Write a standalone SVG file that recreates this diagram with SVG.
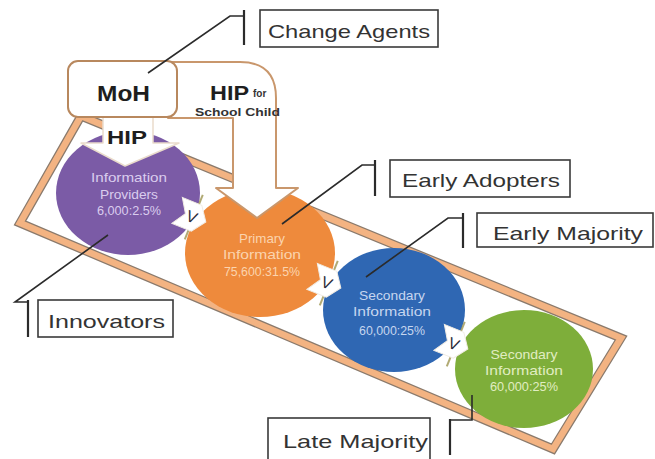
<svg xmlns="http://www.w3.org/2000/svg" width="655" height="459" viewBox="0 0 655 459">
  <style>
    .lbl { font-family: "Liberation Sans", Arial, sans-serif; font-size: 19px; fill: #333333; }
    .box { fill: #ffffff; stroke: #3a3a3a; stroke-width: 1.6; }
    .lead { fill: none; stroke: #2b2b2b; stroke-width: 1.6; }
    .br { fill: none; stroke: #2b2b2b; stroke-width: 2.2; }
    .ct { font-family: "Liberation Sans", Arial, sans-serif; font-size: 13px; text-anchor: middle; }
    .arw { fill: #ffffff; stroke: #c9976c; stroke-width: 2; stroke-linejoin: round; }
    .vm { fill: #ffffff; stroke: #f1ece4; stroke-width: 1; }
    .vt { font-family: "Liberation Sans", Arial, sans-serif; font-size: 16px; fill: #2a2a38; text-anchor: middle; }
    .tick { stroke: #a49c5c; stroke-width: 2; opacity: 0.85; }
  </style>

  <rect width="655" height="459" fill="#ffffff"/>

  <!-- tilted band frame -->
  <g id="band">
    <polygon points="81,116 621,338 553,449 20,223" fill="none" stroke="#8a7a6c" stroke-width="9" stroke-linejoin="miter"/>
    <polygon points="81,116 621,338 553,449 20,223" fill="none" stroke="#f3b382" stroke-width="6.5" stroke-linejoin="miter"/>
  </g>

  <!-- stages -->
  <g id="innovators-circle">
    <ellipse cx="128" cy="193" rx="72" ry="62" fill="#7b5ba6"/>
    <text class="ct" x="129" y="182" fill="#dacdee" textLength="76" lengthAdjust="spacingAndGlyphs">Information</text>
    <text class="ct" x="129" y="199" fill="#dacdee" textLength="58" lengthAdjust="spacingAndGlyphs">Providers</text>
    <text class="ct" x="129" y="215" fill="#dacdee" textLength="64" lengthAdjust="spacingAndGlyphs">6,000:2.5%</text>
  </g>

  <g id="early-adopters-circle">
    <ellipse cx="260" cy="253" rx="75" ry="64" fill="#ee8a3c"/>
    <text class="ct" x="262" y="243" fill="#fbd4ae" textLength="46" lengthAdjust="spacingAndGlyphs">Primary</text>
    <text class="ct" x="262" y="259" fill="#fbd4ae" textLength="78" lengthAdjust="spacingAndGlyphs">Information</text>
    <text class="ct" x="262" y="276" fill="#fbd4ae" textLength="76" lengthAdjust="spacingAndGlyphs">75,600:31.5%</text>
  </g>

  <g id="early-majority-circle">
    <ellipse cx="394" cy="310" rx="71" ry="62" fill="#2f67b3"/>
    <text class="ct" x="392" y="300" fill="#c6d6ef" textLength="66" lengthAdjust="spacingAndGlyphs">Secondary</text>
    <text class="ct" x="392" y="316" fill="#c6d6ef" textLength="78" lengthAdjust="spacingAndGlyphs">Information</text>
    <text class="ct" x="392" y="335" fill="#c6d6ef" textLength="66" lengthAdjust="spacingAndGlyphs">60,000:25%</text>
  </g>

  <g id="late-majority-circle">
    <ellipse cx="524" cy="369" rx="69" ry="59" fill="#7eae3a"/>
    <text class="ct" x="524" y="359" fill="#e1edc2" textLength="67" lengthAdjust="spacingAndGlyphs">Secondary</text>
    <text class="ct" x="524" y="375" fill="#e1edc2" textLength="78" lengthAdjust="spacingAndGlyphs">Information</text>
    <text class="ct" x="524" y="391" fill="#e1edc2" textLength="68" lengthAdjust="spacingAndGlyphs">60,000:25%</text>
  </g>

  <!-- arrows from MoH -->
  <g id="hip-school-arrow">
    <path class="arw" d="M168,62 L240,62 Q276,62 276,98 L276,188 L298,188 L257,218 L216,188 L233,188 L233,118 L168,118 Z"/>
    <text x="210" y="100" font-family="Liberation Sans, Arial, sans-serif" font-size="21" font-weight="bold" fill="#1e1e1e" textLength="39" lengthAdjust="spacingAndGlyphs">HIP</text>
    <text x="253" y="97" font-family="Liberation Sans, Arial, sans-serif" font-size="10" font-weight="bold" fill="#333333">for</text>
    <text x="195" y="116" font-family="Liberation Sans, Arial, sans-serif" font-size="11" font-weight="bold" fill="#333333" textLength="85" lengthAdjust="spacingAndGlyphs">School Child</text>
  </g>

  <g id="hip-arrow">
    <path d="M103,114 L153,114 L153,143 L179,143 L125,166 L81,143 L103,143 Z" fill="#ffffff" stroke="#eadccc" stroke-width="1.5" stroke-linejoin="round"/>
    <text x="107" y="144" font-family="Liberation Sans, Arial, sans-serif" font-size="19" font-weight="bold" fill="#1e1e1e" textLength="40" lengthAdjust="spacingAndGlyphs">HIP</text>
  </g>

  <g id="moh">
    <rect x="68" y="61" width="109" height="56" rx="10" fill="#ffffff" stroke="#b8885e" stroke-width="2"/>
    <text x="97" y="101" font-family="Liberation Sans, Arial, sans-serif" font-size="22" font-weight="bold" fill="#1e1e1e" textLength="53" lengthAdjust="spacingAndGlyphs">MoH</text>
  </g>

  <!-- transition marks -->
  <g id="v1" transform="translate(191,216) rotate(22)">
    <line class="tick" x1="3" y1="-24" x2="3" y2="24"/>
    <polygon class="vm" points="-15,-14 6,-14 16,0 6,14 -15,14 -6,0"/>
    <text class="vt" x="1" y="6">V</text>
  </g>
  <g id="v2" transform="translate(326,282) rotate(22)">
    <line class="tick" x1="3" y1="-24" x2="3" y2="24"/>
    <polygon class="vm" points="-15,-14 6,-14 16,0 6,14 -15,14 -6,0"/>
    <text class="vt" x="1" y="6">V</text>
  </g>
  <g id="v3" transform="translate(453,343) rotate(22)">
    <line class="tick" x1="3" y1="-24" x2="3" y2="24"/>
    <polygon class="vm" points="-15,-14 6,-14 16,0 6,14 -15,14 -6,0"/>
    <text class="vt" x="1" y="6">V</text>
  </g>

  <!-- leader connectors -->
  <g id="connectors">
    <polyline class="lead" points="148,73 230,16 244,16"/>
    <line class="br" x1="244" y1="10" x2="244" y2="45"/>
    <polyline class="lead" points="282,224 362,165 375,165"/>
    <line class="br" x1="375" y1="160" x2="375" y2="196"/>
    <polyline class="lead" points="366,277 448,218 463,218"/>
    <line class="br" x1="463" y1="213" x2="463" y2="248"/>
    <polyline class="lead" points="108,235 15,302 28,302"/>
    <line class="br" x1="28" y1="300" x2="28" y2="337"/>
    <polyline class="lead" points="472,395 472,420 450,420"/>
    <line class="br" x1="450" y1="419" x2="450" y2="455"/>
  </g>

  <!-- callout labels -->
  <g id="change-agents">
    <rect class="box" x="260" y="10" width="178" height="37"/>
    <text class="lbl" x="268" y="38" textLength="162" lengthAdjust="spacingAndGlyphs">Change Agents</text>
  </g>
  <g id="early-adopters">
    <rect class="box" x="390" y="160" width="180" height="37"/>
    <text class="lbl" x="402" y="187" textLength="158" lengthAdjust="spacingAndGlyphs">Early Adopters</text>
  </g>
  <g id="early-majority">
    <rect class="box" x="477" y="213" width="176" height="34"/>
    <text class="lbl" x="493" y="240" textLength="150" lengthAdjust="spacingAndGlyphs">Early Majority</text>
  </g>
  <g id="innovators">
    <rect class="box" x="38" y="300" width="135" height="37"/>
    <text class="lbl" x="48" y="328" textLength="117" lengthAdjust="spacingAndGlyphs">Innovators</text>
  </g>
  <g id="late-majority">
    <rect class="box" x="268" y="418" width="162" height="45"/>
    <text class="lbl" x="283" y="448" textLength="145" lengthAdjust="spacingAndGlyphs">Late Majority</text>
  </g>
</svg>
